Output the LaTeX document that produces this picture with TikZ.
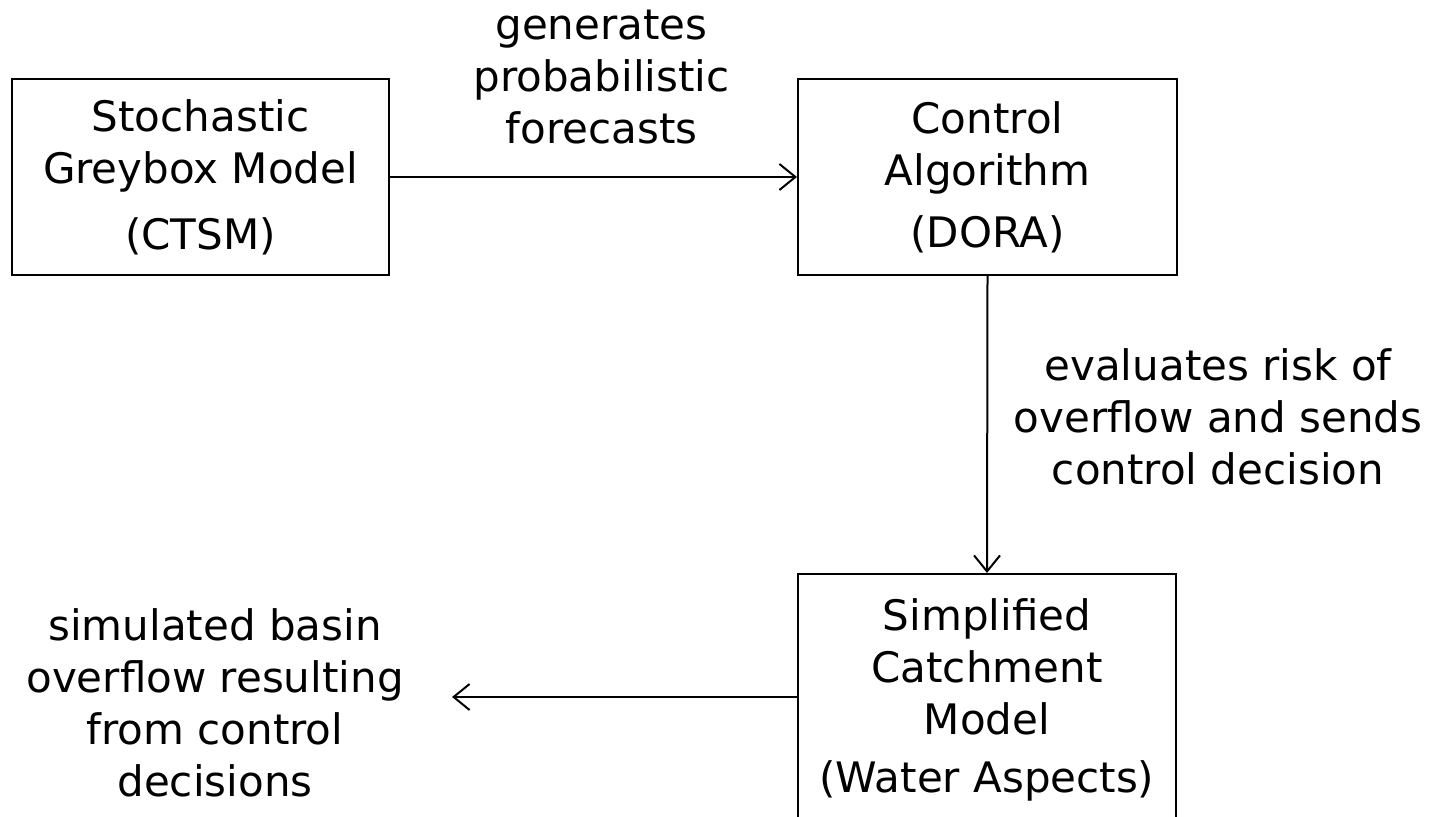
\documentclass[tikz,border=0pt]{standalone}
\usepackage{fontspec}
\setmainfont{DejaVu Sans}
\usetikzlibrary{arrows.meta}
\begin{document}
\begin{tikzpicture}[x=0.5pt, y=-0.5pt,
  font=\fontsize{21pt}{26pt}\selectfont,
  box/.style={draw, line width=1pt, align=center, inner sep=0pt},
  note/.style={align=center, inner sep=0pt},
  link/.style={line width=1pt, -{Straight Barb[length=8pt, width=13pt, line width=1pt]}}]
  \useasboundingbox (0,0) rectangle (1434,817);
  \clip (0,0) rectangle (1434,817);

  % model blocks
  \node[box, minimum width=188.5pt, minimum height=98pt] (ctsm) at (200.5,177)
    {Stochastic\\Greybox Model\\[7pt](CTSM)};
  \node[box, minimum width=189.5pt, minimum height=98pt] (dora) at (987.5,177)
    {Control\\Algorithm\\[5pt](DORA)};
  \node[box, minimum width=189pt, minimum height=126pt] (catch) at (987,700)
    {Simplified\\Catchment\\Model\\[3pt](Water Aspects)};

  % connector descriptions
  \node[note] (fcst) at (601.5,77) {generates\\probabilistic\\forecasts};
  \node[note] (risk) at (1218,417) {evaluates risk of\\overflow and sends\\control decision};
  \node[note] (ovf) at (215,703) {simulated basin\\overflow resulting\\from control\\decisions};

  % connectors
  \coordinate (outflow) at (452,697);
  \draw[link] (ctsm.east) -- (dora.west);
  \draw[link] (dora.south) -- (catch.north);
  \draw[link] (catch.west |- outflow) -- (outflow);
\end{tikzpicture}
\end{document}
